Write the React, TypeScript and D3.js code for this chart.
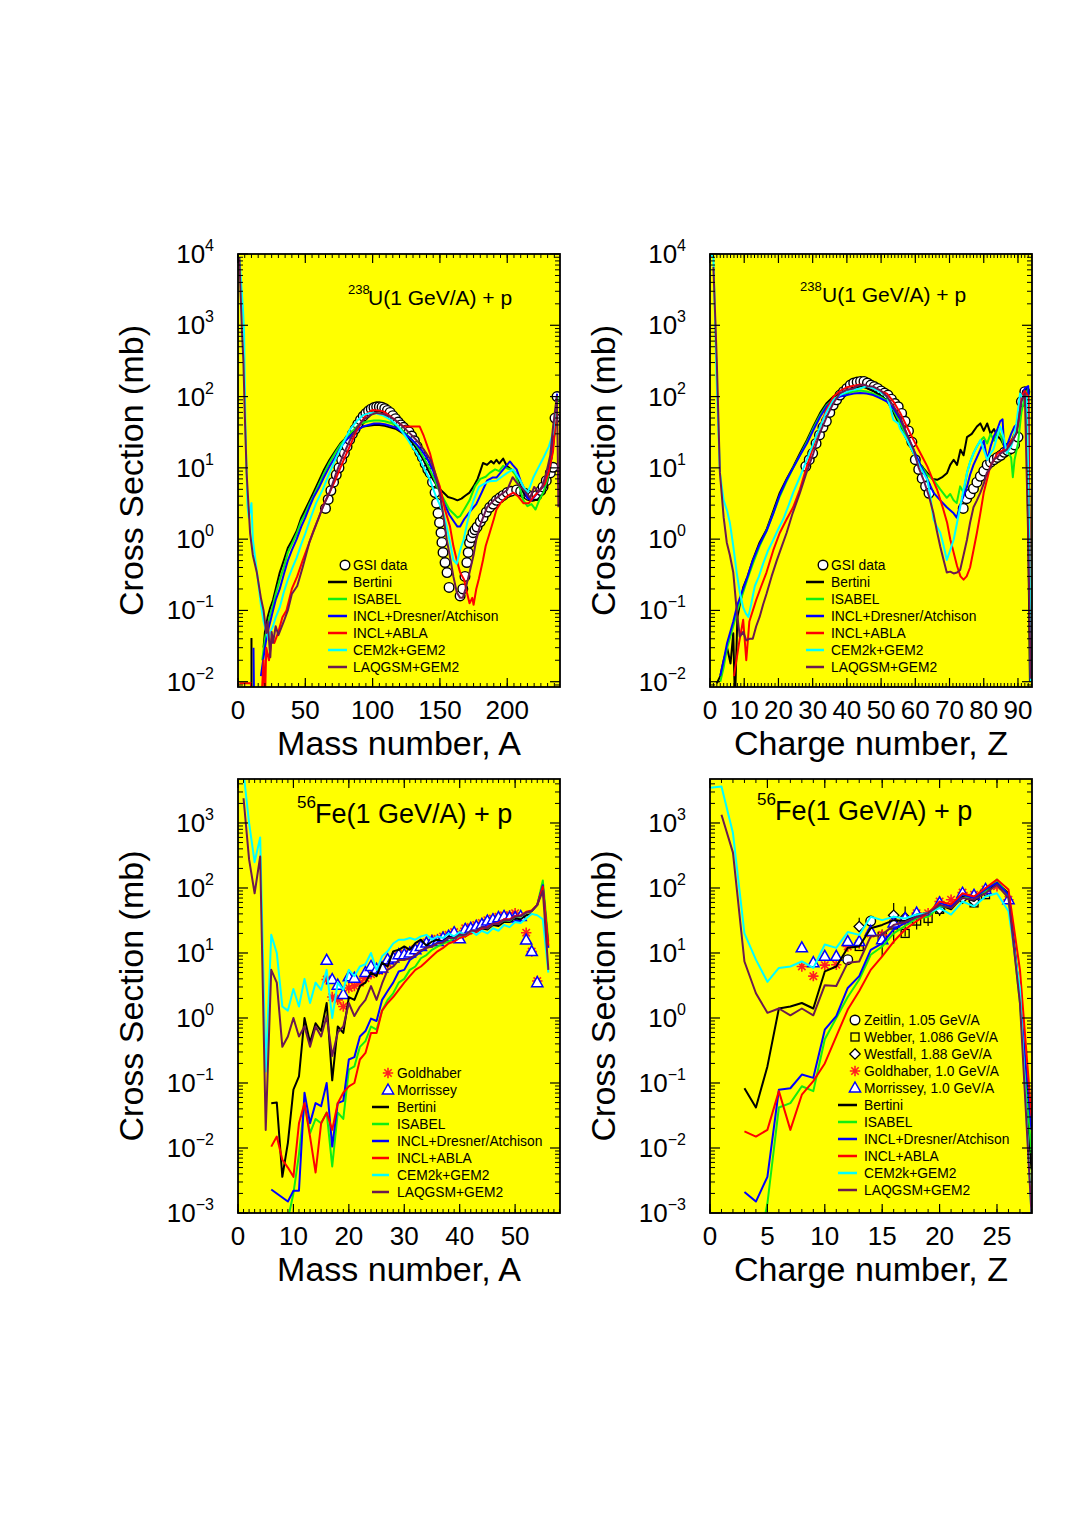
import React from "react";
import * as d3 from "d3";

type Pt = [number, number];
type Err = [number, number, number];
type Kind = "circle" | "square" | "diamond" | "star" | "triangle";

const FONT = "'Liberation Sans', Arial, Helvetica, sans-serif";

const MODEL_NAMES = ["Bertini", "ISABEL", "INCL+Dresner/Atchison", "INCL+ABLA", "CEM2k+GEM2", "LAQGSM+GEM2"];
const MODEL_COLORS = ["#000000", "#11ee11", "#0000ff", "#ff0000", "#00ffff", "#6b1a4f"];

const UA_X_LABELS = [0, 50, 100, 150, 200];
const UZ_X_LABELS = [0, 10, 20, 30, 40, 50, 60, 70, 80, 90];
const FEA_X_LABELS = [0, 10, 20, 30, 40, 50];
const FEZ_X_LABELS = [0, 5, 10, 15, 20, 25];
const U_Y_EXPONENTS = [-2, -1, 0, 1, 2, 3, 4];
const FE_Y_EXPONENTS = [-3, -2, -1, 0, 1, 2, 3];

// ---------------- 238U + p : mass number A ----------------
const UA_GSI: Pt[] = [[65,2.7],[67,3.6],[69,4.8],[71,6.3],[73,8],[75,10],[77,13],[79,16],[81,20],[83,25],[85,30],[87,35],[89,41],[91,47],[93,53],[95,58],[97,63],[99,67],[101,70],[103,72],[105,72],[107,71],[109,68],[111,64],[113,60],[115,54],[117,49],[119,44],[121,40],[123,37],[125,34],[127,32],[129,28],[131,24],[133,20],[135,16.5],[137,14],[139,11.5],[141,9.5],[142.6,8.5],[144.5,6.3],[146.4,4.5],[147.5,3.2],[148.6,2.3],[149.7,1.7],[150.8,1.23],[151.5,0.9],[152.3,0.65],[153.8,0.47],[155.3,0.34],[156.8,0.21],[165,0.16],[167,0.2],[168.6,0.3],[170,0.47],[171,0.65],[172,0.89],[173.3,1.05],[174.6,1.23],[176,1.35],[177.6,1.48],[180,1.75],[182,2.0],[184.5,2.4],[187,2.8],[189.5,3.1],[192,3.5],[194.5,3.8],[197,4.1],[200,4.5],[203,4.7],[207,4.9],[210,4.7],[213,4.4],[216,4.1],[219,4.0],[222,4.1],[225,4.8],[226.6,5.4],[229,6.6],[232,8.5],[234,10.2],[235.5,50],[237,100]];
const UA_BERTINI: Pt[] = [[10,0.041],[10.05,0.006],[10.1,NaN],[19,0.03],[20,0.05],[22,0.08],[24,0.11],[26,0.14],[28,0.2],[31,0.34],[34,0.5],[37,0.75],[40,0.95],[43.6,1.3],[47,2.0],[50,2.6],[53,3.4],[56,4.5],[60,6.5],[64,9.5],[68,13],[72,17],[76,22],[80.7,27],[85,31],[89,35],[93,38],[97,39],[101,40],[105,40],[109,39],[113,37],[117.6,35],[122,31],[126,27],[130,22],[134,17],[137.7,13],[141,9.5],[145,6.8],[149,5.2],[152.6,4.5],[156,3.9],[160,3.7],[163,3.5],[166,3.7],[169,4.1],[172,4.5],[175,5.5],[178,7],[180,9],[182,11.7],[185,11],[188,12.5],[190,11.5],[192,13],[194,11.5],[197,13.5],[199.6,10.7],[203,9.5],[206,8.5],[209,6],[212,4.5],[215,3.8],[218,3.5],[222.6,3.6],[226,4.2],[229,5.4],[232,10],[234,24.5],[236.8,67]];
const UA_ISABEL: Pt[] = [[18,0.02],[20,0.04],[22,0.06],[24,0.09],[26,0.12],[28,0.17],[31,0.27],[34,0.4],[37,0.65],[40,0.85],[43.6,1.2],[47,1.8],[50,2.3],[53,3.1],[56,4.0],[60,5.8],[64,8.5],[68,12],[72,16],[76,21],[80,26],[85,33],[89,39],[93,43],[97,45],[101,46],[105,46],[109,45],[113,43],[117,40],[121,35],[125,30],[129,25],[133,20],[137,15],[141,11],[145,7.5],[149,5],[153,3.6],[157,2.6],[161,2.2],[163,2.0],[165,2.1],[168,2.6],[172,3.5],[176,5.5],[180,7],[184,7.5],[187,8.5],[191,9.5],[194,9],[197,10.7],[200,9.8],[203,9.5],[206,8],[209,5.5],[212,3.5],[215,2.9],[218,3.1],[221,2.6],[224,3.6],[227,4.6],[230,7],[233,15],[236,40],[237.5,100]];
const UA_INCLD: Pt[] = [[11.5,0.03],[12,0.004],[12.5,NaN],[17,0.012],[20,0.03],[22,0.05],[24,0.07],[26,0.1],[28,0.14],[31,0.2],[34,0.32],[37,0.5],[40,0.7],[43.6,1.0],[47,1.5],[50,2.0],[53,2.8],[56,3.8],[60,5.2],[64,7.5],[68,10.5],[72,14],[76,19],[80,24],[85,30],[89,34],[93,38],[97,40],[101,42],[105,42],[109,41],[113,39],[117,37],[121,33],[125,29],[129,25],[133,21],[137,17],[141,13],[145,9],[149,5.5],[153,3.2],[157,2.2],[161,1.7],[163,1.5],[165,1.5],[168,1.9],[172,2.4],[177,3.1],[181,4.5],[185,6.6],[189,7.3],[192,7.3],[196,9],[199,10.5],[202,12.3],[204,11],[207,9.5],[210,6.5],[212,5.4],[215,3.8],[218,3.5],[221,4.1],[224,4.8],[227,5.5],[230,8],[233,14],[235,30],[237,110]];
const UA_ABLA: Pt[] = [[1,0.0095],[9.5,0.0095],[12,0.003],[17,0.004],[19,0.02],[20,0.005],[21,0.03],[23,0.02],[25,0.04],[27,0.035],[30,0.05],[33,0.08],[36,0.1],[40,0.2],[44,0.3],[48,0.5],[52,0.8],[56,1.3],[60,2.0],[64,3.2],[68,4.5],[72,6.5],[76,10],[80,15],[84,22],[88,33],[92,45],[96,58],[100,65],[104,64],[108,62],[112,55],[116,48],[120,42],[123,38],[127,38],[131,38],[135,38],[138,28],[142.6,16],[146,9],[150,5.4],[154,2.5],[157.5,1.5],[160,0.8],[162.5,0.51],[165,0.34],[168,0.27],[170,0.18],[172,0.126],[174,0.15],[175,0.12],[177,0.2],[179,0.28],[182,0.51],[184,0.8],[187,1.23],[190,1.9],[192,2.6],[195,3.2],[197,3.5],[200,4.0],[204.5,4.5],[208,4.0],[212,3.2],[216,3.2],[220,4.0],[224,4.8],[228,6],[231,9],[234,17],[236.8,67]];
const UA_CEM: Pt[] = [[1,9000],[2,5000],[3.8,1550],[4.5,800],[5.5,40],[7,3],[8,2],[10,3.2],[11,1],[13,0.5],[15,0.25],[17,0.12],[19,0.07],[21,0.05],[22.5,0.039],[24,0.05],[26,0.06],[28,0.08],[31,0.11],[34,0.18],[37,0.27],[40,0.38],[43.6,0.55],[47,0.85],[50,1.2],[54,2.0],[58,3.2],[63,5],[68,8.5],[73,14],[78,22],[83,34],[88,45],[93,55],[98,59],[103,58],[108,54],[113,48],[118,40],[122.6,31],[126,25],[130,19],[133,16],[137,11],[142.6,6.8],[147,4],[150,3],[152.6,2.3],[155,1.5],[158,0.8],[160,0.51],[162.5,0.45],[165,0.7],[167.6,0.98],[170,1.6],[172,2.3],[175,3.5],[179,5.4],[183,6],[187,6.5],[192,6.6],[196,7.5],[200,8.5],[204.5,9.5],[207,8],[210,6.5],[212,5.4],[215,4.5],[217,5.5],[219.5,7.4],[223,10],[227,14],[231,20],[234,31],[237,100]];
const UA_LAQGSM: Pt[] = [[1,9000],[2,2500],[3,780],[4,320],[5,60],[6.4,8.5],[9,1.2],[11,0.6],[14,0.34],[17,0.15],[19,0.1],[21,0.048],[22,0.07],[24,0.022],[25,0.05],[26,0.035],[28,0.06],[30,0.045],[34,0.07],[37,0.1],[40,0.17],[44,0.22],[48,0.4],[53,0.9],[58,1.6],[63,2.8],[68,4.5],[73,8.5],[78,15],[83,24],[88,36],[93,47],[98,55],[103,59],[108,57],[113,52],[118,45],[123,37],[128,30],[133,24],[138,18],[143,13],[146,9],[149,5.5],[152,2.5],[155,1.0],[157.5,0.56],[160,0.3],[162.5,0.18],[165,0.15],[167,0.15],[169,0.2],[172,0.34],[175,0.6],[177,0.98],[180,1.6],[185,2.8],[190,3.5],[195,4.2],[200,4.9],[204,7.4],[207,6.2],[210,5.4],[214,4.5],[217,3.8],[220,5.4],[223,4.6],[226,5.5],[229,8.5],[232,15],[234,37],[236.8,100],[237.5,20],[238,2.8]];

// ---------------- 238U + p : charge number Z ----------------
const UZ_GSI: Pt[] = [[28,10.5],[29,13],[30,16],[31,22],[32,29],[33,37],[34,45],[35,60],[36,76],[37,90],[38,105],[39,117],[40,130],[41,145],[42,155],[43,160],[44,163],[45,163],[46,155],[47,145],[48,138],[49,130],[50,120],[51,112],[52,105],[53,92],[54,80],[55,72],[56,58],[57,45],[58,33],[59,23],[60,13],[61,9.5],[62,7.1],[63,5.5],[64,4.4],[74,2.7],[75,3.7],[76,4.3],[77,5.1],[78,6.3],[79,7.6],[80,9],[81,11],[82,12],[83,13],[84,14],[85,15],[86,16.5],[87,17.5],[88,18.6],[89,21],[90,27],[91,85],[92,117]];
const UZ_BERTINI: Pt[] = [[2,0.0095],[3,0.012],[4,0.02],[5,0.03],[6,0.018],[6.8,0.048],[7.3,0.005],[8,0.08],[9.7,0.21],[11,0.3],[12.5,0.51],[14.5,0.9],[16.5,1.35],[18.5,2.5],[20.4,4.5],[22.4,7],[24.3,10.3],[26.3,16],[28.3,24.5],[30.2,38],[32.2,59],[34,80],[36.1,100],[38,110],[40,117],[42,128],[43.9,140],[45.8,132],[47.7,120],[49.7,105],[51.7,89],[53.6,60],[55.6,38],[57.5,25],[59.5,16],[61.5,11],[63.5,8.5],[65,7],[66.4,6.8],[68,7.5],[69.3,8.5],[70.2,11],[71.2,13],[72.2,11],[73.2,18],[74.1,15],[75.1,27],[76.5,30],[78,38],[79,42],[80,33],[81,42],[82,30],[83,35],[84,28],[85,25],[86,20],[87,22],[88,24],[89.6,31],[90.5,80],[91.5,120],[92.5,130],[93.5,0.01]];
const UZ_ISABEL: Pt[] = [[3,0.01],[4,0.016],[5,0.03],[6.8,0.06],[8,0.1],[9.7,0.18],[11,0.28],[12.5,0.45],[14.5,0.8],[16.5,1.3],[18.5,2.3],[20.4,4],[22.4,6.5],[24.3,10],[26.3,15],[28.3,23],[30.2,36],[32.2,55],[34,75],[36.1,92],[38,105],[40,112],[42,118],[43.9,122],[45.8,118],[47.7,110],[49.7,100],[51.7,88],[53.6,65],[55.6,42],[57.5,27],[59.5,17],[61.5,11],[63.5,8],[65.3,6.8],[67.3,5],[69.2,3.8],[70.2,4.3],[71.2,3.5],[72.1,3.2],[73.1,5.5],[74.1,4.5],[75.1,8.5],[76,12],[77,16],[78,20],[79,24],[80,27],[81,22],[82,30],[83,24],[84,35],[85,28],[86,20],[87,17],[88,14],[88.5,7.4],[89,13],[90,22],[91,60],[92,100],[93,130],[93.7,0.01]];
const UZ_INCLD: Pt[] = [[3,0.012],[4,0.02],[5,0.035],[6.8,0.07],[8,0.12],[9.7,0.2],[11,0.3],[12.5,0.5],[14.5,0.85],[16.5,1.3],[18.5,2.3],[20.4,4.2],[22.4,6.8],[24.3,10],[26.3,15],[28.3,22],[30.2,34],[32.2,52],[34,72],[36.1,90],[38,100],[40,105],[42,110],[43.9,112],[45.8,110],[47.7,105],[49.7,95],[51.7,85],[53.6,68],[55.6,48],[57.5,30],[59.5,18],[61.5,11],[63.5,7],[65.3,4.5],[67.3,3.5],[69.2,2.8],[71.2,2.3],[72.1,2.0],[73.1,3],[74.1,4],[75.1,5.4],[76,8],[77,11],[78,14],[79,18],[80,24],[81,13],[82,20],[83,28],[84,35],[84.8,45],[85.5,48],[86,18],[87,22],[88,30],[89,38],[90,42],[91,90],[92,130],[93,140],[93.7,0.01]];
const UZ_ABLA: Pt[] = [[7,0.012],[8.5,0.035],[9.7,0.074],[10.6,0.02],[11.5,0.07],[13.5,0.14],[15,0.22],[16.5,0.34],[18.5,0.7],[20.4,1.23],[22.4,1.9],[24.3,2.8],[26.3,5],[28.3,10.5],[30.2,20],[32.2,38],[34,65],[36.1,100],[38,120],[40,135],[42,142],[43.9,148],[45.8,140],[47.7,130],[49.7,120],[51.7,110],[53.6,85],[55.6,59],[57.5,38],[59.5,24.5],[61.5,16],[63.5,10.5],[65,7],[66.4,4.9],[68,2.8],[69.3,1.7],[70.2,1.0],[71.2,0.65],[72.2,0.42],[73.2,0.3],[74.1,0.27],[75,0.3],[76,0.4],[77,0.7],[78,1.23],[79,2.3],[80,4.5],[81,7],[81.9,10.5],[83,13],[84,16],[85,17],[86,18],[87,20],[88,24],[89,27],[90,40],[91,100],[92,120],[93,100],[93.8,0.01]];
const UZ_CEM: Pt[] = [[0,10000],[1,9000],[1.9,200],[2.9,8.5],[4,3.5],[5,2.5],[5.8,1.7],[6.8,0.8],[7.8,0.34],[8.7,0.18],[9.7,0.11],[10.5,0.09],[11.2,0.081],[12,0.12],[13.1,0.22],[14.3,0.3],[15.5,0.45],[17,0.7],[18.5,0.98],[20,1.4],[21.4,1.9],[23,3],[24.3,4.5],[26.3,7.5],[28.3,13],[30.2,22],[32.2,38],[34,60],[36.1,90],[38,105],[40,117],[42,125],[43.9,130],[45.8,140],[47.7,130],[49.7,115],[51.7,100],[52.7,70],[53.6,47],[55,42],[55.6,35],[57.5,25],[59.5,16],[61.5,10],[63.5,6.8],[64.4,4],[65.3,1.9],[66.3,1.5],[67.3,1.23],[68.3,0.8],[69.2,0.51],[70.2,0.7],[71.2,0.98],[72.2,1.7],[73.1,2.8],[74.1,5],[75.1,8.5],[76,12],[77,16],[78,20],[79,24.5],[80,18],[81,13],[82,16],[82.8,18],[84,28],[84.8,38],[86,25],[86.7,16],[88,20],[88.6,24.5],[89.5,40],[90.6,110],[91.5,95],[92.6,100],[93.3,1],[93.8,0.01]];
const UZ_LAQGSM: Pt[] = [[1,6600],[2,300],[2.9,8.5],[4,2.0],[4.9,0.9],[5.8,0.6],[6.8,0.34],[7.8,0.1],[8.7,0.043],[9.7,0.05],[10.6,0.038],[11.5,0.04],[12.5,0.04],[13.5,0.06],[14.5,0.081],[15.5,0.12],[16.5,0.17],[18,0.3],[19.5,0.5],[21,0.8],[22.4,1.23],[24,2.2],[26.3,4.5],[28,8],[30.2,16],[32,30],[34.1,52],[36,80],[38,112],[40,125],[41.9,130],[43,140],[44.8,148],[46,140],[47.7,138],[50,120],[51.7,100],[53.5,75],[55.6,52],[57.5,30],[59.5,18],[61,10],[62.4,6.8],[64,4],[65.3,2.3],[66.3,1.3],[67.3,0.78],[68.3,0.5],[69.2,0.34],[70.2,0.35],[71.2,0.33],[72.2,0.34],[73.1,0.37],[74.1,0.6],[75.1,0.98],[76,1.7],[77,2.8],[78,3.5],[79,4.5],[80,6],[80.9,8.5],[82,10],[82.8,13],[84,14],[84.8,15.8],[86,17],[86.7,18],[88,22],[89.6,31],[90.5,60],[91,85],[92,110],[93,1],[93.7,0.011]];

// ---------------- 56Fe + p : mass number A ----------------
const FEA_GOLDHABER: Pt[] = [[16,3.9],[17,2.1],[18,1.9],[19,1.5],[20,2.9],[21,3.1],[22,3.5],[23,4.1],[24,4.7],[25,5.3],[26,5.5],[27,6.9],[28,7.9],[29,9],[30,9.8],[31,10.5],[32,11.5],[33,13],[34,14.5],[35,16],[36,16.5],[37,18],[38,19],[39,21],[40,19],[41,24],[42,25],[43,27],[44,29],[45,32],[46,34],[47,36],[48,38],[49,38],[50,41],[52,20.5],[53,10.5],[54,3.7]];
const FEA_MORRISSEY: Pt[] = [[16,7.7],[17,3.9],[18,3.2],[19,2.3],[20,4.3],[21,4.1],[23,5.0],[24,6.2],[25,5.6],[26,5.9],[27,7.9],[28,8.4],[29,9.4],[30,9.4],[31,10],[32,11.2],[33,12.6],[34,14.2],[35,15],[36,15],[37,17],[38,18],[39,20.5],[40,16.5],[41,23],[42,24],[43,25.7],[44,27.5],[45,31],[46,32.5],[47,35],[48,36.5],[49,35],[50,35],[51,36.5],[52,15.8],[53,10.5],[54,3.5]];
const FEA_BERTINI: Pt[] = [[6,0.049],[7,0.05],[8,0.0036],[9,0.012],[10,0.079],[11,0.126],[12,1.0],[13,0.42],[14,0.83],[15,0.63],[16,1.7],[17,0.11],[18,0.74],[19,0.59],[20,2.1],[21,1.9],[22,3.1],[23,3.5],[24,5],[25,4.4],[26,7.1],[27,6.2],[28,10.6],[29,11.2],[30,12.6],[31,11.2],[32,14.2],[33,16],[34,13],[35,15],[36,16],[37,15],[38,18],[39,17],[40,19],[41,18],[42,21],[43,21],[44,24],[45,23],[46,27],[47,26],[48,30],[49,30],[50,34],[51,33],[52,38],[53,40]];
const FEA_ISABEL: Pt[] = [[9,0.0008],[10,0.002],[11,0.008],[12,0.049],[13,0.017],[14,0.028],[15,0.024],[16,0.035],[17,0.0052],[18,0.035],[19,0.028],[20,0.16],[21,0.18],[22,0.36],[23,0.44],[24,0.74],[25,0.66],[26,1.3],[27,1.9],[28,2.4],[29,3.5],[30,4],[31,5.5],[32,6.2],[33,8.3],[34,9.3],[35,11.2],[36,12.5],[37,14],[38,15],[39,17],[40,18],[41,19],[42,21],[43,22],[44,25],[45,24],[46,28],[47,28],[48,32],[49,31],[50,36],[51,36],[52,42],[53,44],[54,55],[55,130],[56,15]];
const FEA_INCLD: Pt[] = [[6,0.0023],[9,0.0015],[10,0.0022],[11,0.0022],[12,0.071],[13,0.024],[14,0.049],[15,0.044],[16,0.1],[17,0.0105],[18,0.049],[19,0.053],[20,0.23],[21,0.25],[22,0.52],[23,0.63],[24,0.98],[25,0.9],[26,1.9],[27,2.6],[28,3.5],[29,5.2],[30,5.5],[31,7.8],[32,8.9],[33,10.6],[34,12],[35,13],[36,14.5],[37,15],[38,17],[39,17.5],[40,19],[41,19.5],[42,22],[43,22],[44,25],[45,25],[46,29],[47,29],[48,33],[49,32],[50,37],[51,37],[52,42],[53,44],[54,55],[55,110],[56,12]];
const FEA_ABLA: Pt[] = [[6,0.0105],[7,0.015],[8,0.0066],[9,0.005],[10,0.0036],[11,0.024],[12,0.049],[13,0.015],[14,0.0042],[15,0.024],[16,0.035],[17,0.019],[18,0.049],[19,0.071],[20,0.089],[21,0.1],[22,0.23],[23,0.29],[24,0.59],[25,0.59],[26,1.3],[27,1.7],[28,2.1],[29,2.7],[30,3.5],[31,4.4],[32,5.5],[33,6.2],[34,7.4],[35,8.9],[36,10.6],[37,12],[38,14],[39,15],[40,17],[41,18],[42,20],[43,21],[44,24],[45,25],[46,28],[47,29],[48,33],[49,33],[50,37],[51,38],[52,43],[53,45],[54,55],[55,105],[56,13]];
const FEA_CEM: Pt[] = [[1,6000],[2,1000],[3,250],[4,600],[5,0.15],[6,19],[7,10],[8,1.5],[9,1.3],[10,2.8],[11,1.5],[12,4],[13,1.7],[14,3.5],[15,2.7],[16,5.5],[17,1.0],[18,3.5],[19,2.7],[20,5.5],[21,4.4],[22,6.2],[23,6.7],[24,10],[25,5.5],[26,8.9],[27,10.6],[28,14],[29,16],[30,16],[31,17],[32,16],[33,18],[34,19],[35,16],[36,18],[37,17],[38,20],[39,18],[40,21],[41,19],[42,22],[43,19],[44,22],[45,20],[46,24],[47,22],[48,27],[49,25],[50,30],[51,29],[52,34],[53,40],[54,38],[55,33],[56,5]];
const FEA_LAQGSM: Pt[] = [[1,2400],[2,275],[3,83],[4,305],[5,0.019],[6,5.5],[7,3.5],[8,0.36],[9,0.52],[10,1.0],[11,0.52],[12,0.74],[13,0.36],[14,0.74],[15,0.52],[16,1.07],[17,0.26],[18,0.6],[19,0.74],[20,1.7],[21,1.07],[22,1.5],[23,1.9],[24,3.1],[25,1.9],[26,3.4],[27,5.5],[28,6.2],[29,7.8],[30,7.8],[31,8.3],[32,9.3],[33,11],[34,12],[35,12.6],[36,14],[37,14.5],[38,17],[39,17],[40,19],[41,19],[42,22],[43,22],[44,25],[45,24],[46,28],[47,28],[48,32],[49,32],[50,36],[51,37],[52,42],[53,44],[54,55],[55,90],[56,5.5]];

// ---------------- 56Fe + p : charge number Z ----------------
const FEZ_ZEITLIN: Pt[] = [[12,7.9],[14,31]];
const FEZ_WEBBER: Pt[] = [[13,12.6],[15,18],[16,27],[17,20],[18,31],[19,34],[20,47],[23,59],[24,79]];
const FEZ_WESTFALL: Pt[] = [[13,25.5],[16,38],[17,35],[20,47],[22,70],[23,63],[24,90]];
const FEZ_ERRORS: Err[] = [[13,23,35],[15,9,23],[16,14,59],[17,18,52],[18,23,37],[19,26,37],[20,37,49],[23,50,70]];
const FEZ_GOLDHABER: Pt[] = [[8,6.2],[9,4.4],[10,6.5],[11,6.6],[12,12.6],[13,14],[14,20],[15,19],[16,29],[17,31],[18,41],[19,41],[20,62],[21,66],[22,85],[23,79],[24,95],[25,106],[26,66]];
const FEZ_MORRISSEY: Pt[] = [[8,12],[9,7.1],[10,8.9],[11,8.9],[12,15],[13,15],[14,21.5],[15,16],[16,29],[17,34],[18,41],[20,59],[22,83],[23,77],[24,95],[26,66]];
const FEZ_BERTINI: Pt[] = [[3,0.083],[4,0.042],[5,0.18],[6,1.4],[7,1.5],[8,1.7],[9,1.4],[10,5.2],[11,6.2],[12,12],[13,12.6],[14,24],[15,27],[16,32],[17,31],[18,39],[19,41],[20,55],[21,47],[22,74],[23,63],[24,89],[25,120],[26,83],[27,2.1],[28,0.0047]];
const FEZ_ISABEL: Pt[] = [[4.5,0.0005],[5,0.0014],[6,0.042],[7,0.049],[8,0.089],[9,0.075],[10,0.47],[11,1.0],[12,2.1],[13,3.9],[14,9.4],[15,12.6],[16,20],[17,26],[18,34],[19,36],[20,52],[21,52],[22,70],[23,74],[24,89],[25,135],[26,74],[27,1.7],[28,0.0083]];
const FEZ_INCLD: Pt[] = [[3,0.0021],[4,0.0015],[5,0.0036],[6,0.079],[7,0.083],[8,0.135],[9,0.12],[10,0.66],[11,1.07],[12,2.9],[13,4.4],[14,11.2],[15,14],[16,23],[17,29],[18,36],[19,39],[20,59],[21,52],[22,79],[23,70],[24,95],[25,120],[26,79],[27,2.1],[28,0.019]];
const FEZ_ABLA: Pt[] = [[3,0.018],[4,0.015],[5,0.019],[6,0.075],[7,0.019],[8,0.066],[9,0.107],[10,0.2],[11,0.52],[12,1.35],[13,2.6],[14,5.5],[15,8.9],[16,15],[17,23],[18,31],[19,41],[20,62],[21,56],[22,83],[23,74],[24,100],[25,135],[26,95],[27,5.5],[28,0.031]];
const FEZ_CEM: Pt[] = [[0,3470],[1,3650],[2,700],[3,20],[4,7.9],[5,3.6],[6,5.9],[7,6.2],[8,7.4],[9,5.9],[10,13.5],[11,12],[12,21],[13,19],[14,36],[15,32],[16,36],[17,34],[18,39],[19,41],[20,49],[21,39],[22,62],[23,52],[24,74],[25,83],[26,44],[27,2.8],[28,0.001]];
const FEZ_LAQGSM: Pt[] = [[1,1340],[2,350],[3,7.4],[4,2.4],[5,1.2],[6,1.4],[7,1.1],[8,1.4],[9,1.1],[10,3.2],[11,3.1],[12,7.1],[13,7.4],[14,18],[15,19],[16,27],[17,30],[18,36],[19,41],[20,55],[21,49],[22,70],[23,66],[24,83],[25,112],[26,70],[27,1.7],[28,0.001]];

interface Series { pts: Pt[]; color: string }
interface MarkSet { kind: Kind; pts: Pt[]; color: string }
interface LegendEntry { label: string; kind: Kind | "line"; color: string }

function Sym({ kind, x, y, color }: { kind: Kind; x: number; y: number; color: string }) {
  if (kind === "circle") return <circle cx={x} cy={y} r={4.8} fill="#ffffff" stroke="#000" strokeWidth={1.4} />;
  if (kind === "square") return <rect x={x - 4} y={y - 4} width={8} height={8} fill="none" stroke="#000" strokeWidth={1.3} />;
  if (kind === "diamond") return <path d={`M${x},${y - 5.2}L${x + 5.2},${y}L${x},${y + 5.2}L${x - 5.2},${y}Z`} fill="#ffffff" stroke="#000" strokeWidth={1.3} />;
  if (kind === "triangle") return <path d={`M${x},${y - 6}L${x + 5.6},${y + 4}L${x - 5.6},${y + 4}Z`} fill="#ffffff" stroke={color} strokeWidth={1.5} />;
  const r = 5.2, q = 3.7;
  return <path d={`M${x - r},${y}L${x + r},${y}M${x},${y - r}L${x},${y + r}M${x - q},${y - q}L${x + q},${y + q}M${x - q},${y + q}L${x + q},${y - q}`} stroke={color} strokeWidth={1.6} fill="none" />;
}

interface PanelProps {
  id: string;
  box: [number, number, number, number];
  xDomain: [number, number];
  yDomain: [number, number];
  xLabels: number[];
  xMinor: number;
  yExps: number[];
  models: Series[];
  marks: MarkSet[];
  errors?: Err[];
  title: { sup: string; main: string; supX: number; mainX: number; y: number; size: number; supSize: number; raise: number };
  legend: { lineX: [number, number]; symX: number; textX: number; y0: number; dy: number; entries: LegendEntry[] };
  xTitle: string;
}

function Panel(p: PanelProps) {
  const [L, T, R, B] = p.box;
  const x = d3.scaleLinear().domain(p.xDomain).range([L, R]);
  const y = d3.scaleLog().domain(p.yDomain).range([B, T]);
  const line = d3.line<Pt>().defined(d => Number.isFinite(d[1]) && d[1] > 0).x(d => x(d[0])).y(d => y(d[1]));
  const xMinorTicks = d3.range(p.xDomain[0], p.xDomain[1] + 1e-9, p.xMinor);
  const yMinorTicks: number[] = [];
  const e0 = Math.floor(Math.log10(p.yDomain[0])), e1 = Math.ceil(Math.log10(p.yDomain[1]));
  for (let e = e0; e <= e1; e++) for (let k = 2; k <= 9; k++) { const v = k * Math.pow(10, e); if (v >= p.yDomain[0] && v <= p.yDomain[1]) yMinorTicks.push(v); }
  const ink = "#000";
  return (
    <g fontFamily={FONT}>
      <defs><clipPath id={p.id}><rect x={L} y={T} width={R - L} height={B - T} /></clipPath></defs>
      <rect x={L} y={T} width={R - L} height={B - T} fill="#ffff00" />
      <g clipPath={`url(#${p.id})`}>
        {(p.errors || []).map((e, i) => <line key={"e" + i} x1={x(e[0])} x2={x(e[0])} y1={y(e[1])} y2={y(e[2])} stroke="#000" strokeWidth={1.2} />)}
        {p.marks.map((m, i) => <g key={"m" + i}>{m.pts.map((d, j) => <Sym key={j} kind={m.kind} x={x(d[0])} y={y(d[1])} color={m.color} />)}</g>)}
        {p.models.map((s, i) => <path key={i} d={line(s.pts) || ""} fill="none" stroke={s.color} strokeWidth={2} strokeLinejoin="round" />)}
      </g>
      {xMinorTicks.map((v, i) => <g key={"xm" + i}><line x1={x(v)} x2={x(v)} y1={B} y2={B - 4} stroke={ink} /><line x1={x(v)} x2={x(v)} y1={T} y2={T + 4} stroke={ink} /></g>)}
      {p.xLabels.map((v, i) => <g key={"xM" + i}><line x1={x(v)} x2={x(v)} y1={B} y2={B - 9} stroke={ink} strokeWidth={1.2} /><line x1={x(v)} x2={x(v)} y1={T} y2={T + 9} stroke={ink} strokeWidth={1.2} /></g>)}
      {yMinorTicks.map((v, i) => <g key={"ym" + i}><line x1={L} x2={L + 5} y1={y(v)} y2={y(v)} stroke={ink} /><line x1={R} x2={R - 5} y1={y(v)} y2={y(v)} stroke={ink} /></g>)}
      {p.yExps.map((e, i) => { const v = Math.pow(10, e); return <g key={"yM" + i}><line x1={L} x2={L + 10} y1={y(v)} y2={y(v)} stroke={ink} strokeWidth={1.2} /><line x1={R} x2={R - 10} y1={y(v)} y2={y(v)} stroke={ink} strokeWidth={1.2} /></g>; })}
      <rect x={L} y={T} width={R - L} height={B - T} fill="none" stroke="#000" strokeWidth={1.8} />
      {p.xLabels.map((v, i) => <text key={"xl" + i} x={x(v)} y={B + 32} fontSize={26} textAnchor="middle" fill="#000">{v}</text>)}
      {p.yExps.map((e, i) => (
        <text key={"yl" + i} x={L - 24} y={y(Math.pow(10, e)) + 9} fontSize={26} textAnchor="end" fill="#000">
          <tspan>10</tspan><tspan dy={-12} fontSize={16}>{e < 0 ? "\u2212" + Math.abs(e) : String(e)}</tspan>
        </text>
      ))}
      <text transform={`translate(${L - 95},${(T + B) / 2}) rotate(-90)`} textAnchor="middle" fontSize={34} fill="#000">Cross Section (mb)</text>
      <text x={(L + R) / 2} y={B + 68} textAnchor="middle" fontSize={34} fill="#000">{p.xTitle}</text>
      <text x={p.title.supX} y={p.title.y - p.title.raise} fontSize={p.title.supSize} fill="#000">{p.title.sup}</text>
      <text x={p.title.mainX} y={p.title.y} fontSize={p.title.size} fill="#000">{p.title.main}</text>
      {p.legend.entries.map((en, i) => {
        const yy = p.legend.y0 + i * p.legend.dy;
        return (
          <g key={"lg" + i}>
            {en.kind === "line"
              ? <line x1={p.legend.lineX[0]} x2={p.legend.lineX[1]} y1={yy} y2={yy} stroke={en.color} strokeWidth={2.5} />
              : <Sym kind={en.kind} x={p.legend.symX} y={yy} color={en.color} />}
            <text x={p.legend.textX} y={yy + 5} fontSize={13.8} fill="#000">{en.label}</text>
          </g>
        );
      })}
    </g>
  );
}

function modelSeries(arrs: Pt[][]): Series[] {
  return arrs.map((pts, i) => ({ pts, color: MODEL_COLORS[i] }));
}
function modelLegend(): LegendEntry[] {
  return MODEL_NAMES.map((n, i) => ({ label: n, kind: "line" as const, color: MODEL_COLORS[i] }));
}

export default function App() {
  const uTop: [number, number] = [0.00843, 10000];
  const feDom: [number, number] = [0.001, 4750];
  return (
    <svg width={1090} height={1539} style={{ position: "absolute", left: 0, top: 0, background: "#fff" }}>
      <rect x={0} y={0} width={1090} height={1539} fill="#fff" />
      <Panel
        id="c1" box={[238, 254, 560, 687]} xDomain={[0, 239.2]} yDomain={uTop}
        xLabels={UA_X_LABELS} xMinor={5} yExps={U_Y_EXPONENTS}
        models={modelSeries([UA_BERTINI, UA_ISABEL, UA_INCLD, UA_ABLA, UA_CEM, UA_LAQGSM])}
        marks={[{ kind: "circle", pts: UA_GSI, color: "#000" }]}
        title={{ sup: "238", main: "U(1 GeV/A) + p", supX: 348, mainX: 368, y: 305, size: 21, supSize: 13, raise: 11 }}
        legend={{ lineX: [328, 347], symX: 345, textX: 353, y0: 565, dy: 17, entries: [{ label: "GSI data", kind: "circle", color: "#000" }, ...modelLegend()] }}
        xTitle="Mass number, A"
      />
      <Panel
        id="c2" box={[710, 254, 1032, 687]} xDomain={[0, 94.1]} yDomain={uTop}
        xLabels={UZ_X_LABELS} xMinor={1} yExps={U_Y_EXPONENTS}
        models={modelSeries([UZ_BERTINI, UZ_ISABEL, UZ_INCLD, UZ_ABLA, UZ_CEM, UZ_LAQGSM])}
        marks={[{ kind: "circle", pts: UZ_GSI, color: "#000" }]}
        title={{ sup: "238", main: "U(1 GeV/A) + p", supX: 800, mainX: 822, y: 302, size: 21, supSize: 13, raise: 11 }}
        legend={{ lineX: [806, 824], symX: 823, textX: 831, y0: 565, dy: 17, entries: [{ label: "GSI data", kind: "circle", color: "#000" }, ...modelLegend()] }}
        xTitle="Charge number, Z"
      />
      <Panel
        id="c3" box={[238, 779, 560, 1213]} xDomain={[0, 58.1]} yDomain={feDom}
        xLabels={FEA_X_LABELS} xMinor={1} yExps={FE_Y_EXPONENTS}
        models={modelSeries([FEA_BERTINI, FEA_ISABEL, FEA_INCLD, FEA_ABLA, FEA_CEM, FEA_LAQGSM])}
        marks={[{ kind: "star", pts: FEA_GOLDHABER, color: "#ff2020" }, { kind: "triangle", pts: FEA_MORRISSEY, color: "#0000ff" }]}
        title={{ sup: "56", main: "Fe(1 GeV/A) + p", supX: 297, mainX: 315, y: 823, size: 27, supSize: 17, raise: 15 }}
        legend={{ lineX: [372, 389], symX: 388, textX: 397, y0: 1073, dy: 17, entries: [{ label: "Goldhaber", kind: "star", color: "#ff2020" }, { label: "Morrissey", kind: "triangle", color: "#0000ff" }, ...modelLegend()] }}
        xTitle="Mass number, A"
      />
      <Panel
        id="c4" box={[710, 779, 1032, 1213]} xDomain={[0, 28.05]} yDomain={feDom}
        xLabels={FEZ_X_LABELS} xMinor={1} yExps={FE_Y_EXPONENTS}
        models={modelSeries([FEZ_BERTINI, FEZ_ISABEL, FEZ_INCLD, FEZ_ABLA, FEZ_CEM, FEZ_LAQGSM])}
        errors={FEZ_ERRORS}
        marks={[
          { kind: "circle", pts: FEZ_ZEITLIN, color: "#000" },
          { kind: "square", pts: FEZ_WEBBER, color: "#000" },
          { kind: "diamond", pts: FEZ_WESTFALL, color: "#000" },
          { kind: "star", pts: FEZ_GOLDHABER, color: "#ff2020" },
          { kind: "triangle", pts: FEZ_MORRISSEY, color: "#0000ff" },
        ]}
        title={{ sup: "56", main: "Fe(1 GeV/A) + p", supX: 757, mainX: 775, y: 820, size: 27, supSize: 17, raise: 15 }}
        legend={{
          lineX: [838, 857], symX: 855, textX: 864, y0: 1020, dy: 17, entries: [
            { label: "Zeitlin, 1.05 GeV/A", kind: "circle", color: "#000" },
            { label: "Webber, 1.086 GeV/A", kind: "square", color: "#000" },
            { label: "Westfall, 1.88 GeV/A", kind: "diamond", color: "#000" },
            { label: "Goldhaber, 1.0 GeV/A", kind: "star", color: "#ff2020" },
            { label: "Morrissey, 1.0 GeV/A", kind: "triangle", color: "#0000ff" },
            ...modelLegend(),
          ]
        }}
        xTitle="Charge number, Z"
      />
    </svg>
  );
}
